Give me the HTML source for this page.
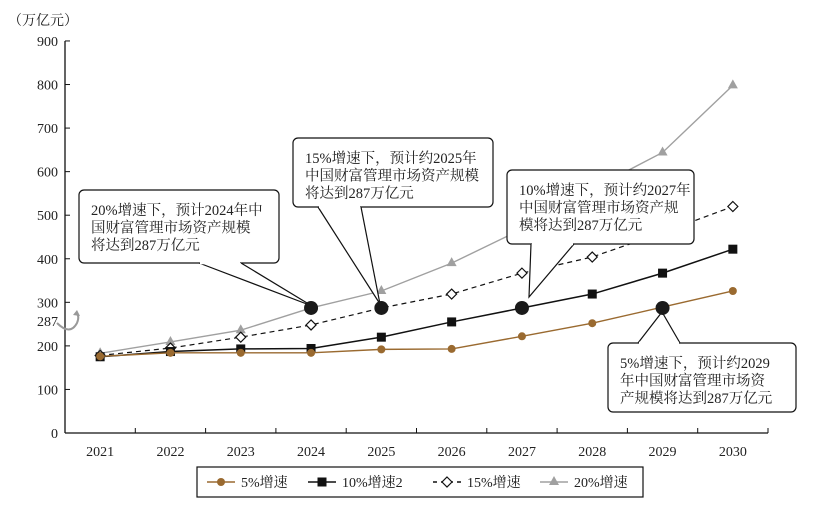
<!DOCTYPE html>
<html><head><meta charset="utf-8">
<style>
body{margin:0;background:#fff;}
svg{display:block;font-family:"Liberation Serif","Noto Serif CJK SC",serif;}
</style></head>
<body>
<svg id="chart" width="820" height="511" viewBox="0 0 820 511" xmlns="http://www.w3.org/2000/svg">
<g id="axes"></g>
<g id="series"></g>
<g id="callouts"></g>
<g id="legend"></g>
</svg>
<script>
const years = ["2021","2022","2023","2024","2025","2026","2027","2028","2029","2030"];
const yTicks = [0,100,200,300,400,500,600,700,800,900];
const s5 = [176,184,184,184,192,193,222,252,289,326];
const s10 = [175,187,193,194,220,255,287,319,367,422];
const s15 = [178,195,220,248,287,319,367,404,460,520];
const s20 = [183,209,236,287,326,390,468,560,644,798];
const highlights = [[3,287],[4,287],[6,287],[8,287]];

const NS="http://www.w3.org/2000/svg";
const X0=65, BAND=70.3, Y0=433, YK=0.4356;
function xs(i){return X0+BAND*(i+0.5);}
function ys(v){return Y0-v*YK;}
function mk(tag,attrs,parent,text){const e=document.createElementNS(NS,tag);for(const k in attrs)e.setAttribute(k,attrs[k]);if(text!==undefined)e.textContent=text;parent.appendChild(e);return e;}

const ax=document.getElementById('axes');
let e=mk('line',{x1:X0,y1:ys(900),x2:X0,y2:Y0,stroke:'#111','stroke-width':1.3},ax);


e=mk('line',{x1:X0,y1:Y0,x2:X0+BAND*10,y2:Y0,stroke:'#111','stroke-width':1.3},ax);


yTicks.forEach(t=>{
  mk('line',{x1:X0,y1:ys(t),x2:X0+5,y2:ys(t),stroke:'#111','stroke-width':1},ax);
  const l=mk('text',{x:58,y:ys(t)+5,'text-anchor':'end','font-size':14,fill:'#222'},ax,String(t));
  
  
});
e=mk('text',{x:58,y:326,'text-anchor':'end','font-size':14,fill:'#222'},ax,'287');


e=mk('path',{d:'M57 323 Q70 336 77 323 Q80 316 76 312',fill:'none',stroke:'#999','stroke-width':2},ax);


mk('path',{d:'M73 315 L77 310 L80 316 Z',fill:'#999'},ax);
for(let i=1;i<=10;i++){mk('line',{x1:X0+BAND*i,y1:Y0,x2:X0+BAND*i,y2:Y0-5,stroke:'#111','stroke-width':1},ax);}
years.forEach((y,i)=>{
  const l=mk('text',{x:xs(i),y:456,'text-anchor':'middle','font-size':14,fill:'#222'},ax,y);
  
  
});
e=mk('text',{x:8,y:25,'font-size':14,fill:'#222'},ax,'（万亿元）');



const sg=document.getElementById('series');
function marker(type,x,y,color,parent){
  if(type==='circle') return mk('circle',{cx:x,cy:y,r:4,fill:color},parent);
  if(type==='square') return mk('rect',{x:x-4.5,y:y-4.5,width:9,height:9,fill:color},parent);
  if(type==='diamond') return mk('path',{d:`M${x} ${y-5}L${x+5} ${y}L${x} ${y+5}L${x-5} ${y}Z`,fill:'#fff',stroke:color,'stroke-width':1.2},parent);
  return mk('path',{d:`M${x} ${y-6}L${x+5} ${y+3}L${x-5} ${y+3}Z`,fill:color},parent);
}
function drawSeries(vals,color,dash,type,name,width){
  const g=mk('g',{},sg);
  
  
  const p=mk('polyline',{points:vals.map((v,i)=>xs(i)+','+ys(v)).join(' '),fill:'none',stroke:color,'stroke-width':width,'stroke-dasharray':dash||'none'},g);
  vals.forEach((v,i)=>{const m=marker(type,xs(i),ys(v),color,g);
    
    });
}
drawSeries(s20,'#a0a0a0',null,'triangle','series-20pct',1.4);
drawSeries(s15,'#111','5,4','diamond','series-15pct',1.2);
drawSeries(s10,'#111',null,'square','series-10pct',1.5);
drawSeries(s5,'#9a6a30',null,'circle','series-5pct',1.4);

const cg=document.getElementById('callouts');
function callout(box,p1,p2,tip,lines,name){
  const g=mk('g',{},cg);
  
  
  mk('rect',{x:box[0],y:box[1],width:box[2],height:box[3],rx:5,fill:'#fff',stroke:'#111','stroke-width':1.2},g);
  mk('polyline',{points:`${p1[0]},${p1[1]} ${tip[0]},${tip[1]} ${p2[0]},${p2[1]}`,fill:'#fff',stroke:'#111','stroke-width':1.2},g);
  mk('line',{x1:p1[0]+1,y1:p1[1],x2:p2[0]-1,y2:p2[1],stroke:'#fff','stroke-width':2.5},g);
  lines.forEach((t,k)=>mk('text',{x:box[0]+12,y:box[1]+25+k*17.5,'font-size':14.5,fill:'#222'},g,t));
}
callout([79,190,200,73],[199,263],[241,263],[312,306],['20%增速下，预计2024年中','国财富管理市场资产规模','将达到287万亿元'],'callout-2024');
callout([293,138,200,69],[318,207],[361,207],[380,304],['15%增速下，预计约2025年','中国财富管理市场资产规模','将达到287万亿元'],'callout-2025');
callout([507,170,187,74],[531,244],[574,244],[529,297],['10%增速下，预计约2027年','中国财富管理市场资产规','模将达到287万亿元'],'callout-2027');
callout([608,343,188,69],[638,343],[680,343],[662,312],['5%增速下，预计约2029','年中国财富管理市场资','产规模将达到287万亿元'],'callout-2029');
highlights.forEach(h=>{const c=mk('circle',{cx:xs(h[0]),cy:ys(h[1]),r:7,fill:'#1a1a1a'},cg);
  
  });

const lg=document.getElementById('legend');
e=mk('rect',{x:197,y:467,width:446,height:30,fill:'#fff',stroke:'#111','stroke-width':1.2},lg);


const legItems=[[207,'#9a6a30',null,'circle','5%增速'],[308,'#111',null,'square','10%增速2'],[433,'#111','4,4','diamond','15%增速'],[540,'#a0a0a0',null,'triangle','20%增速']];
legItems.forEach(it=>{
  const g=mk('g',{},lg);
  
  
  mk('line',{x1:it[0],y1:482,x2:it[0]+28,y2:482,stroke:it[1],'stroke-width':1.4,'stroke-dasharray':it[2]||'none'},g);
  marker(it[3],it[0]+14,482,it[1],g);
  mk('text',{x:it[0]+34,y:487,'font-size':14,fill:'#222'},g,it[4]);
});
</script>
</body></html>
